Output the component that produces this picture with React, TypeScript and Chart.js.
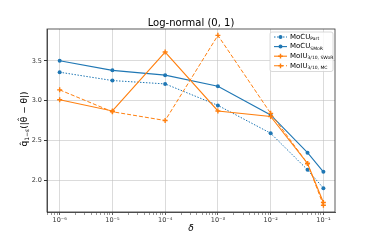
import React, { useEffect, useRef } from "react";
import { Chart, registerables } from "chart.js";

Chart.register(...registerables);

const xValues = [1e-6, 1e-5, 1e-4, 1e-3, 1e-2, 5e-2, 1e-1];
const mocuPart = [3.357, 3.252, 3.21, 2.94, 2.59, 2.13, 1.9];
const mocuSmor = [3.5, 3.38, 3.32, 3.18, 2.82, 2.345, 2.105];
const moiuSwor = [3.01, 2.87, 3.61, 2.87, 2.8, 2.21, 1.72];
const moiuMc = [3.135, 2.86, 2.75, 3.82, 2.84, 2.21, 1.685];

const yTicks = [2.0, 2.5, 3.0, 3.5];
const xDecades = [-7, -6, -5, -4, -3, -2, -1, 0];
const supers: Record<string, string> = { "-": "⁻", "0": "⁰", "1": "¹", "2": "²", "3": "³", "4": "⁴", "5": "⁵", "6": "⁶", "7": "⁷", "8": "⁸", "9": "⁹" };

const titleText = "Log-normal (0, 1)";
const xLabel = "δ";

const legendItems = [
  { main: "MoCU", sub: "Part", color: "#1f77b4", dash: [1.5, 1.5], marker: "circle" },
  { main: "MoCU", sub: "SMoR", color: "#1f77b4", dash: [], marker: "circle" },
  { main: "MoIU", sub: "3/10, SWoR", color: "#ff7f0e", dash: [], marker: "plus" },
  { main: "MoIU", sub: "3/10, MC", color: "#ff7f0e", dash: [4, 2], marker: "plus" },
];

const FONT = "'DejaVu Sans', sans-serif";
const BLUE = "#1f77b4";
const ORANGE = "#ff7f0e";

function isMajor(v: number) {
  const l = Math.log10(v);
  return Math.abs(l - Math.round(l)) < 1e-9;
}

function drawMarker(ctx: CanvasRenderingContext2D, kind: string, x: number, y: number, color: string) {
  ctx.save();
  if (kind === "circle") {
    ctx.fillStyle = color;
    ctx.beginPath();
    ctx.arc(x, y, 2, 0, Math.PI * 2);
    ctx.fill();
  } else {
    ctx.strokeStyle = color;
    ctx.lineWidth = 1.4;
    ctx.beginPath();
    ctx.moveTo(x - 2.4, y);
    ctx.lineTo(x + 2.4, y);
    ctx.moveTo(x, y - 2.4);
    ctx.lineTo(x, y + 2.4);
    ctx.stroke();
  }
  ctx.restore();
}

const decorPlugin = {
  id: "decor",
  afterDraw(chart: any) {
    const ctx: CanvasRenderingContext2D = chart.ctx;
    const a = chart.chartArea;
    ctx.save();
    ctx.strokeStyle = "#333";
    ctx.lineWidth = 0.8;
    ctx.strokeRect(a.left, a.top, a.right - a.left, a.bottom - a.top);
    ctx.fillStyle = "#000";
    ctx.font = `10px ${FONT}`;
    ctx.textAlign = "center";
    ctx.textBaseline = "middle";
    ctx.fillText(titleText, (a.left + a.right) / 2, 23);
    ctx.font = `italic 9px ${FONT}`;
    ctx.fillText(xLabel, (a.left + a.right) / 2, 229);
    ctx.save();
    ctx.translate(24, 119);
    ctx.rotate(-Math.PI / 2);
    const p1 = "q̂";
    const p2 = "1−ε";
    const p3 = "(|θ̂ − θ|)";
    ctx.font = `9px ${FONT}`;
    const w1 = ctx.measureText(p1).width;
    const w3 = ctx.measureText(p3).width;
    ctx.font = `6px ${FONT}`;
    const w2 = ctx.measureText(p2).width;
    const x0 = -(w1 + w2 + w3) / 2;
    ctx.textAlign = "left";
    ctx.textBaseline = "alphabetic";
    ctx.font = `9px ${FONT}`;
    ctx.fillText(p1, x0, 3);
    ctx.font = `6px ${FONT}`;
    ctx.fillText(p2, x0 + w1, 5);
    ctx.font = `9px ${FONT}`;
    ctx.fillText(p3, x0 + w1 + w2, 3);
    ctx.restore();
    const lx = 270, ly = 32, lw = 63, lh = 39.5;
    ctx.fillStyle = "rgba(255,255,255,0.85)";
    ctx.strokeStyle = "#d0d0d0";
    ctx.lineWidth = 0.8;
    ctx.beginPath();
    (ctx as any).roundRect(lx, ly, lw, lh, 2);
    ctx.fill();
    ctx.stroke();
    legendItems.forEach((it, i) => {
      const y = 37 + i * 9.6;
      ctx.save();
      ctx.strokeStyle = it.color;
      ctx.lineWidth = it.dash.length && it.dash[0] < 2 ? 1 : 1.1;
      ctx.setLineDash(it.dash);
      ctx.beginPath();
      ctx.moveTo(274, y);
      ctx.lineTo(287, y);
      ctx.stroke();
      ctx.restore();
      drawMarker(ctx, it.marker, 280.5, y, it.color);
      ctx.fillStyle = "#000";
      ctx.textAlign = "left";
      ctx.textBaseline = "middle";
      ctx.font = `7px ${FONT}`;
      ctx.fillText(it.main, 290, y);
      const mw = ctx.measureText(it.main).width;
      ctx.font = `4.5px ${FONT}`;
      ctx.fillText(it.sub, 290 + mw, y + 2);
    });
    ctx.restore();
  },
};

export default function App() {
  const ref = useRef<HTMLCanvasElement>(null);
  useEffect(() => {
    document.body.style.margin = "0";
    const ds = (label: string, data: number[], color: string, dash: number[], width: number, style: string, order: number) => ({
      label,
      data: xValues.map((x, i) => ({ x, y: data[i] })),
      borderColor: color,
      backgroundColor: color,
      borderWidth: width,
      borderDash: dash,
      pointStyle: style,
      pointRadius: style === "circle" ? 2 : 2.5,
      pointBorderWidth: style === "circle" ? 0 : 1.4,
      pointBorderColor: color,
      pointBackgroundColor: color,
      fill: false,
      tension: 0,
      order,
    });
    const chart = new Chart(ref.current!, {
      type: "line",
      data: {
        datasets: [
          ds("MoCU Part", mocuPart, BLUE, [1.5, 1.5], 1, "circle", 3),
          ds("MoCU SMoR", mocuSmor, BLUE, [], 1.1, "circle", 2),
          ds("MoIU SWoR", moiuSwor, ORANGE, [], 1.1, "cross", 1),
          ds("MoIU MC", moiuMc, ORANGE, [4, 2], 1, "cross", 0),
        ],
      },
      options: {
        responsive: false,
        animation: false,
        layout: { padding: { left: 0, right: 39, top: 29, bottom: 0 } },
        plugins: { legend: { display: false }, title: { display: false }, tooltip: { enabled: false } },
        scales: {
          x: {
            type: "logarithmic",
            min: Math.pow(10, -6.24),
            max: Math.pow(10, -0.78),
            afterBuildTicks(scale: any) {
              const t: any[] = [];
              xDecades.forEach((e) => {
                for (let k = 1; k <= 9; k++) {
                  const v = k * Math.pow(10, e);
                  if (v >= scale.min && v <= scale.max) t.push({ value: v });
                }
              });
              scale.ticks = t;
            },
            afterFit(scale: any) {
              scale.height = 31;
            },
            ticks: {
              autoSkip: false,
              maxRotation: 0,
              minRotation: 0,
              padding: 1,
              color: "#333",
              font: { size: 6.5, family: FONT },
              callback(v: any) {
                const n = Number(v);
                if (!isMajor(n)) return "";
                const e = String(Math.round(Math.log10(n)));
                return "10" + e.split("").map((c) => supers[c]).join("");
              },
            },
            grid: {
              color: (c: any) => (c.tick && isMajor(c.tick.value) ? "rgba(190,190,190,0.55)" : "rgba(0,0,0,0)"),
              lineWidth: 1,
              tickLength: 3,
              tickColor: "#333",
              tickWidth: (c: any) => (c.tick && isMajor(c.tick.value) ? 0.8 : 0.5),
            },
            border: { display: true, color: "#333", width: 0.8 },
          },
          y: {
            type: "linear",
            min: 1.6,
            max: 3.9,
            afterBuildTicks(scale: any) {
              scale.ticks = yTicks.map((v) => ({ value: v }));
            },
            afterFit(scale: any) {
              scale.width = 47;
            },
            ticks: {
              padding: 2,
              color: "#333",
              font: { size: 6.5, family: FONT },
              callback: (v: any) => Number(v).toFixed(1),
            },
            grid: {
              color: "rgba(190,190,190,0.55)",
              lineWidth: 1,
              tickLength: 3,
              tickColor: "#333",
            },
            border: { display: true, color: "#333", width: 0.8 },
          },
        },
      } as any,
      plugins: [decorPlugin],
    });
    return () => chart.destroy();
  }, []);
  return (
    <div style={{ width: 374, height: 243 }}>
      <canvas ref={ref} width={374} height={243} />
    </div>
  );
}
